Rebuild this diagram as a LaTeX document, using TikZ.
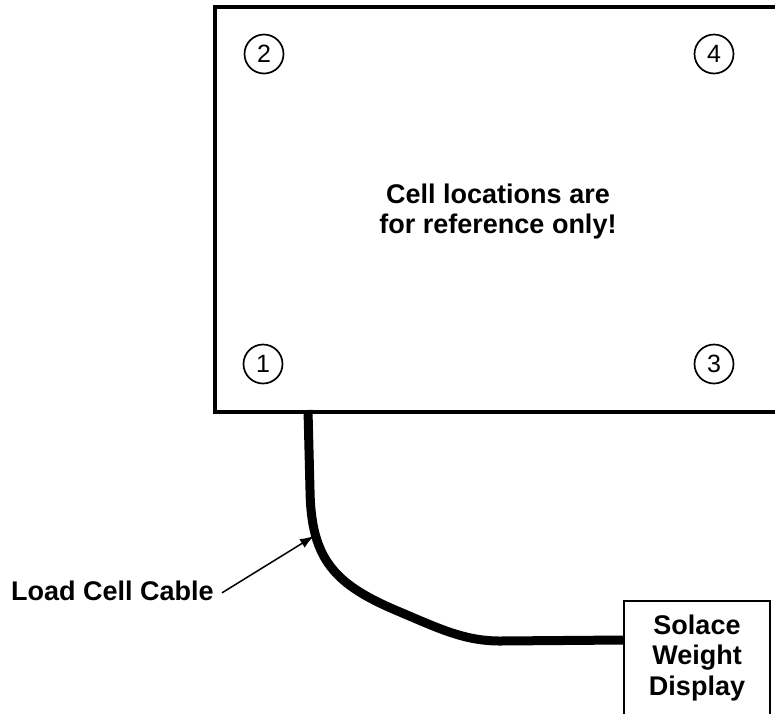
\documentclass[tikz,border=0pt]{standalone}
\usepackage{fontspec}
\setmainfont{Liberation Sans}
\usetikzlibrary{arrows.meta,calc}
\tikzset{
  platebox/.style={draw, line width=4pt, rectangle, inner sep=0pt, minimum width=575pt, minimum height=405pt},
  cellnum/.style={draw, circle, line width=1.7pt, minimum size=39pt, inner sep=0pt, font=\fontsize{25}{25}\selectfont},
  bigtext/.style={font=\fontsize{27}{29.5}\selectfont\bfseries, align=center, inner sep=0pt},
  dispbox/.style={draw, line width=2pt, rectangle, minimum width=146pt, minimum height=114pt, inner sep=0pt, align=center, font=\fontsize{27}{30.5}\selectfont\bfseries},
  cable/.style={line width=9pt, line cap=butt, line join=round},
  pointer/.style={line width=1.5pt, -{Latex[length=14pt,width=10pt]}}
}
\begin{document}
\begin{tikzpicture}[x=1pt,y=-1pt]
\useasboundingbox (0,0) rectangle (775,713);
\clip (0,0) rectangle (775,713);
% plate (right side runs off the picture)
\node[platebox] (plate) at (502.5,209.5) {};
\node[cellnum] (c2) at (264,54) {2};
\node[cellnum] (c4) at (714,54) {4};
\node[cellnum] (c1) at (263,364) {1};
\node[cellnum] (c3) at (714,364) {3};
\node[bigtext] (note) at (498,211.5) {Cell locations are\\for reference only!};
% display
\node[dispbox] (disp) at (697,658) {Solace\\Weight\\Display};
% cable
\coordinate (cabtop) at ($(plate.south west)+(95,-4)$);
\coordinate (cabend) at ($(disp.north west)+(0,40)$);
\draw[cable] (cabtop) -- (310,490) .. controls (311,560) and (335,585) .. (400,612)
   .. controls (440,629) and (465,641) .. (500,641) -- (cabend);
% label
\node[bigtext, anchor=base west] (lbl) at (11,600) {Load Cell Cable};
\coordinate (tip) at (314,536);
\draw[pointer] ($(lbl.east)+(8,2.5)$) -- (tip);
\end{tikzpicture}
\end{document}
